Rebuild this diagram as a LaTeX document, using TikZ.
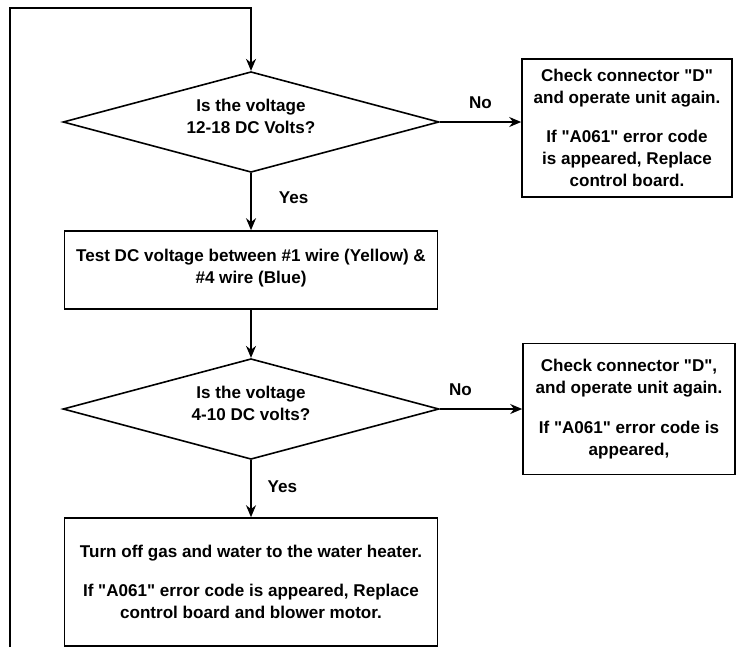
\documentclass[tikz,border=0pt]{standalone}
\usepackage{fontspec}
\setmainfont{Liberation Sans}
\usetikzlibrary{shapes.geometric,arrows.meta}
\newcommand{\qd}{\textquotedbl}
\begin{document}
\begin{tikzpicture}[x=0.75pt,y=-0.75pt,>={Stealth[length=9pt,width=7.5pt]},line width=1.2pt,
	font=\fontsize{12.8}{16.5}\selectfont\bfseries,
	box/.style={draw,rectangle,align=center,inner sep=0pt},
	decision/.style={draw,diamond,aspect=3.7,align=center,inner sep=0pt,minimum width=282pt,minimum height=75.5pt,text depth=9pt}]
	\useasboundingbox (0,0) rectangle (741,647);
	
	\node[decision] (volt1) at (251,122) {Is the voltage\\12-18 DC Volts?};
	\node[box,minimum width=157.5pt,minimum height=103.5pt] (chk1) at (627,128) {Check connector \qd D\qd\\and operate unit again.\\[13pt]If \qd A061\qd\ error code\\is appeared, Replace\\control board.};
	\node[box,minimum width=279.75pt,minimum height=58.5pt,text depth=5pt] (test) at (251,270) {Test DC voltage between \#1 wire (Yellow) \&\\\#4 wire (Blue)};
	\node[decision] (volt2) at (251,409) {Is the voltage\\4-10 DC volts?};
	\node[box,minimum width=159pt,minimum height=98.25pt] (chk2) at (629,409) {Check connector \qd D\qd,\\and operate unit again.\\[13pt]If \qd A061\qd\ error code is\\appeared,};
	\node[box,minimum width=279.75pt,minimum height=96pt] (off) at (251,582) {Turn off gas and water to the water heater.\\[13pt]If \qd A061\qd\ error code is appeared, Replace\\control board and blower motor.};
	
	\coordinate (loopstart) at (10,647);
	\coordinate (looptop) at (10,8);
	\draw[->] (loopstart) -- (looptop) -| (volt1.north);
	
	\draw[->] (volt1.east) -- node[above=6pt]{No} (volt1.east -| chk1.west);
	\draw[->] (volt1.south) -- node[right=17pt,pos=0.43]{Yes} (test.north);
	\draw[->] (test.south) -- (volt2.north);
	\draw[->] (volt2.east) -- node[above=6pt,pos=0.25]{No} (chk2.west);
	\draw[->] (volt2.south) -- node[right=8.5pt,pos=0.47]{Yes} (off.north);
\end{tikzpicture}
\end{document}
